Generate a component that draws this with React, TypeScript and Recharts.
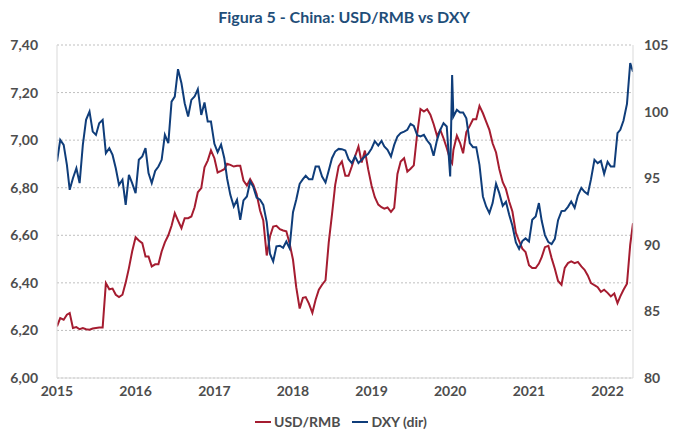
import { LineChart, Line, XAxis, YAxis, CartesianGrid } from "recharts";

const dates = [
  "2015-01-01", "2015-01-16", "2015-02-01", "2015-02-16", "2015-03-01", "2015-03-16",
  "2015-04-01", "2015-04-16", "2015-05-01", "2015-05-16", "2015-06-01", "2015-06-16",
  "2015-07-01", "2015-07-16", "2015-08-01", "2015-08-16", "2015-09-01", "2015-09-16",
  "2015-10-01", "2015-10-16", "2015-11-01", "2015-11-16", "2015-12-01", "2015-12-16",
  "2016-01-01", "2016-01-16", "2016-02-01", "2016-02-16", "2016-03-01", "2016-03-16",
  "2016-04-01", "2016-04-16", "2016-05-01", "2016-05-16", "2016-06-01", "2016-06-16",
  "2016-07-01", "2016-07-16", "2016-08-01", "2016-08-16", "2016-09-01", "2016-09-16",
  "2016-10-01", "2016-10-16", "2016-11-01", "2016-11-16", "2016-12-01", "2016-12-16",
  "2017-01-01", "2017-01-16", "2017-02-01", "2017-02-16", "2017-03-01", "2017-03-16",
  "2017-04-01", "2017-04-16", "2017-05-01", "2017-05-16", "2017-06-01", "2017-06-16",
  "2017-07-01", "2017-07-16", "2017-08-01", "2017-08-16", "2017-09-01", "2017-09-16",
  "2017-10-01", "2017-10-16", "2017-11-01", "2017-11-16", "2017-12-01", "2017-12-16",
  "2018-01-01", "2018-01-16", "2018-02-01", "2018-02-16", "2018-03-01", "2018-03-16",
  "2018-04-01", "2018-04-16", "2018-05-01", "2018-05-16", "2018-06-01", "2018-06-16",
  "2018-07-01", "2018-07-16", "2018-08-01", "2018-08-16", "2018-09-01", "2018-09-16",
  "2018-10-01", "2018-10-16", "2018-11-01", "2018-11-16", "2018-12-01", "2018-12-16",
  "2019-01-01", "2019-01-16", "2019-02-01", "2019-02-16", "2019-03-01", "2019-03-16",
  "2019-04-01", "2019-04-16", "2019-05-01", "2019-05-16", "2019-06-01", "2019-06-16",
  "2019-07-01", "2019-07-16", "2019-08-01", "2019-08-16", "2019-09-01", "2019-09-16",
  "2019-10-01", "2019-10-16", "2019-11-01", "2019-11-16", "2019-12-01", "2019-12-16",
  "2020-01-01", "2020-01-10", "2020-01-16", "2020-02-01", "2020-02-16", "2020-03-01",
  "2020-03-16", "2020-04-01", "2020-04-16", "2020-05-01", "2020-05-16", "2020-06-01",
  "2020-06-16", "2020-07-01", "2020-07-16", "2020-08-01", "2020-08-16", "2020-09-01",
  "2020-09-16", "2020-10-01", "2020-10-16", "2020-11-01", "2020-11-16", "2020-12-01",
  "2020-12-16", "2021-01-01", "2021-01-16", "2021-02-01", "2021-02-16", "2021-03-01",
  "2021-03-16", "2021-04-01", "2021-04-16", "2021-05-01", "2021-05-16", "2021-06-01",
  "2021-06-16", "2021-07-01", "2021-07-16", "2021-08-01", "2021-08-16", "2021-09-01",
  "2021-09-16", "2021-10-01", "2021-10-16", "2021-11-01", "2021-11-16", "2021-12-01",
  "2021-12-16", "2022-01-01", "2022-01-16", "2022-02-01", "2022-02-16", "2022-03-01",
  "2022-03-16", "2022-04-01", "2022-04-16", "2022-04-29",
];

const usdRmb = [
  6.217, 6.252, 6.245, 6.266, 6.273, 6.210, 6.214, 6.205, 6.210, 6.205, 6.203, 6.208,
  6.210, 6.212, 6.212, 6.399, 6.373, 6.376, 6.350, 6.340, 6.350, 6.401, 6.462, 6.532,
  6.592, 6.578, 6.567, 6.511, 6.511, 6.469, 6.478, 6.478, 6.532, 6.570, 6.600, 6.640,
  6.693, 6.662, 6.630, 6.672, 6.672, 6.679, 6.718, 6.781, 6.798, 6.886, 6.914, 6.957,
  6.924, 6.864, 6.871, 6.878, 6.901, 6.896, 6.889, 6.892, 6.892, 6.830, 6.809, 6.836,
  6.812, 6.773, 6.704, 6.662, 6.515, 6.595, 6.637, 6.640, 6.626, 6.620, 6.617, 6.567,
  6.497, 6.382, 6.292, 6.337, 6.340, 6.313, 6.274, 6.329, 6.371, 6.392, 6.411, 6.570,
  6.687, 6.812, 6.890, 6.910, 6.850, 6.850, 6.889, 6.931, 6.973, 6.906, 6.956, 6.878,
  6.808, 6.760, 6.729, 6.718, 6.712, 6.717, 6.698, 6.715, 6.858, 6.910, 6.924, 6.868,
  6.880, 6.894, 7.029, 7.131, 7.120, 7.130, 7.107, 7.068, 7.018, 7.043, 7.008, 6.967,
  6.917, 6.903, 6.959, 7.019, 6.988, 6.945, 7.034, 7.060, 7.088, 7.088, 7.144, 7.113,
  7.078, 7.043, 6.987, 6.948, 6.879, 6.823, 6.794, 6.742, 6.700, 6.611, 6.576, 6.544,
  6.530, 6.474, 6.462, 6.462, 6.481, 6.508, 6.550, 6.556, 6.504, 6.459, 6.408, 6.392,
  6.463, 6.483, 6.490, 6.483, 6.488, 6.469, 6.455, 6.431, 6.399, 6.390, 6.382, 6.362,
  6.371, 6.358, 6.343, 6.355, 6.315, 6.343, 6.371, 6.396, 6.560, 6.651,
];

const dxy = [
  96.25, 97.88, 97.5, 96.0, 94.13, 95.0, 95.75, 94.63, 97.5, 99.38, 100.0, 98.5,
  98.25, 99.13, 99.38, 96.88, 97.25, 96.75, 95.75, 94.5, 94.88, 93.0, 95.25, 94.63,
  93.88, 96.38, 96.63, 97.25, 95.38, 94.63, 95.55, 95.88, 96.38, 98.25, 97.63, 100.75,
  101.13, 103.18, 102.13, 100.63, 99.63, 100.88, 101.13, 101.68, 99.75, 100.68, 99.25, 99.25,
  97.58, 96.95, 97.53, 96.5, 94.98, 93.75, 92.88, 93.38, 91.88, 93.33, 93.63, 94.75,
  94.33, 93.55, 93.38, 93.0, 91.7, 89.33, 88.75, 89.88, 89.93, 89.78, 90.25, 89.75,
  92.45, 93.38, 94.58, 94.93, 95.18, 94.93, 94.93, 95.88, 95.88, 95.13, 94.68, 95.58,
  96.5, 97.0, 97.2, 97.18, 97.08, 96.43, 96.13, 96.63, 96.13, 96.38, 96.63, 96.83,
  97.23, 97.78, 97.45, 97.8, 97.38, 97.13, 96.63, 97.5, 98.13, 98.38, 98.5, 98.63,
  99.08, 98.93, 98.23, 98.13, 98.25, 97.83, 97.53, 96.68, 97.88, 98.63, 99.13, 98.88,
  95.13, 102.75, 99.63, 100.13, 99.93, 99.93, 99.5, 97.63, 97.33, 97.33, 96.0, 93.63,
  92.88, 92.38, 93.13, 94.58, 93.88, 92.93, 93.23, 92.25, 91.43, 90.18, 89.7, 90.28,
  90.48, 90.25, 91.88, 92.13, 93.13, 91.8, 90.73, 90.2, 90.05, 90.45, 91.85, 92.53,
  92.55, 92.85, 93.25, 92.78, 93.7, 94.28, 93.98, 93.8, 94.93, 96.38, 96.13, 96.3,
  95.33, 96.23, 95.88, 95.88, 98.38, 98.63, 99.33, 100.58, 103.65, 103.0,
];

const yearTicks = [
  "2015-01-01", "2016-01-01", "2017-01-01", "2018-01-01",
  "2019-01-01", "2020-01-01", "2021-01-01", "2022-01-01",
];
const rmbTicks = [6.0, 6.2, 6.4, 6.6, 6.8, 7.0, 7.2, 7.4];
const dxyTicks = [80, 85, 90, 95, 100, 105];

const toTime = (d: string) => Date.parse(d + "T00:00:00Z");

const data = dates.map((d, i) => ({
  t: toTime(d),
  rmb: usdRmb[i],
  dxy: dxy[i],
}));

const RED = "#A51C30";
const BLUE = "#0F3D7A";
const TICK = { fill: "#4D4D4D", fontSize: 14, fontWeight: 700, fontFamily: "Lato, sans-serif" };

export default function App() {
  return (
    <div
      style={{
        position: "absolute",
        top: 0,
        left: 0,
        width: 674,
        height: 430,
        background: "#fff",
        fontFamily: "Lato, sans-serif",
      }}
    >
      {/* TITLE */}
      <div
        style={{
          position: "absolute",
          top: 7,
          left: 14,
          width: 660,
          textAlign: "center",
          fontSize: 16,
          fontWeight: 700,
          color: "#1F4E79",
        }}
      >
        Figura 5 - China: USD/RMB vs DXY
      </div>

      <LineChart
        width={674}
        height={430}
        data={data}
        margin={{ top: 45, right: 0, bottom: 22, left: 0 }}
      >
        <CartesianGrid
          yAxisId="left"
          vertical={false}
          stroke="#BFBFBF"
          strokeDasharray="2 2"
        />

        <XAxis
          dataKey="t"
          type="number"
          scale="time"
          domain={[toTime("2015-01-01"), toTime("2022-04-29")]}
          ticks={yearTicks.map(toTime)}
          tickFormatter={(v) => String(new Date(v).getUTCFullYear())}
          allowDataOverflow
          height={30}
          tickLine={false}
          tickSize={0}
          tickMargin={8}
          axisLine={{ stroke: "#D9D9D9" }}
          tick={TICK}
        />

        <YAxis
          yAxisId="left"
          domain={[6, 7.4]}
          ticks={rmbTicks}
          tickFormatter={(v) => v.toFixed(2).replace(".", ",")}
          width={57}
          tickLine={false}
          tickSize={0}
          tickMargin={19}
          axisLine={{ stroke: "#D9D9D9" }}
          tick={TICK}
        />

        <YAxis
          yAxisId="right"
          orientation="right"
          domain={[80, 105]}
          ticks={dxyTicks}
          width={41}
          tickLine={false}
          tickSize={0}
          tickMargin={11}
          axisLine={{ stroke: "#D9D9D9" }}
          tick={{ ...TICK, textAnchor: "start" }}
        />

        <Line
          yAxisId="left"
          dataKey="rmb"
          type="linear"
          stroke={RED}
          strokeWidth={2}
          dot={false}
          isAnimationActive={false}
        />
        <Line
          yAxisId="right"
          dataKey="dxy"
          type="linear"
          stroke={BLUE}
          strokeWidth={2}
          dot={false}
          isAnimationActive={false}
        />
      </LineChart>

      {/* LEGEND */}
      <div
        style={{
          position: "absolute",
          top: 413,
          left: 255,
          display: "flex",
          alignItems: "center",
          fontSize: 14,
          fontWeight: 700,
          color: "#4D4D4D",
          lineHeight: "18px",
        }}
      >
        <span style={{ display: "inline-block", width: 16, height: 2, background: RED, marginRight: 3 }} />
        <span>USD/RMB</span>
        <span style={{ display: "inline-block", width: 16, height: 2, background: BLUE, marginLeft: 12, marginRight: 3 }} />
        <span>DXY (dir)</span>
      </div>
    </div>
  );
}
